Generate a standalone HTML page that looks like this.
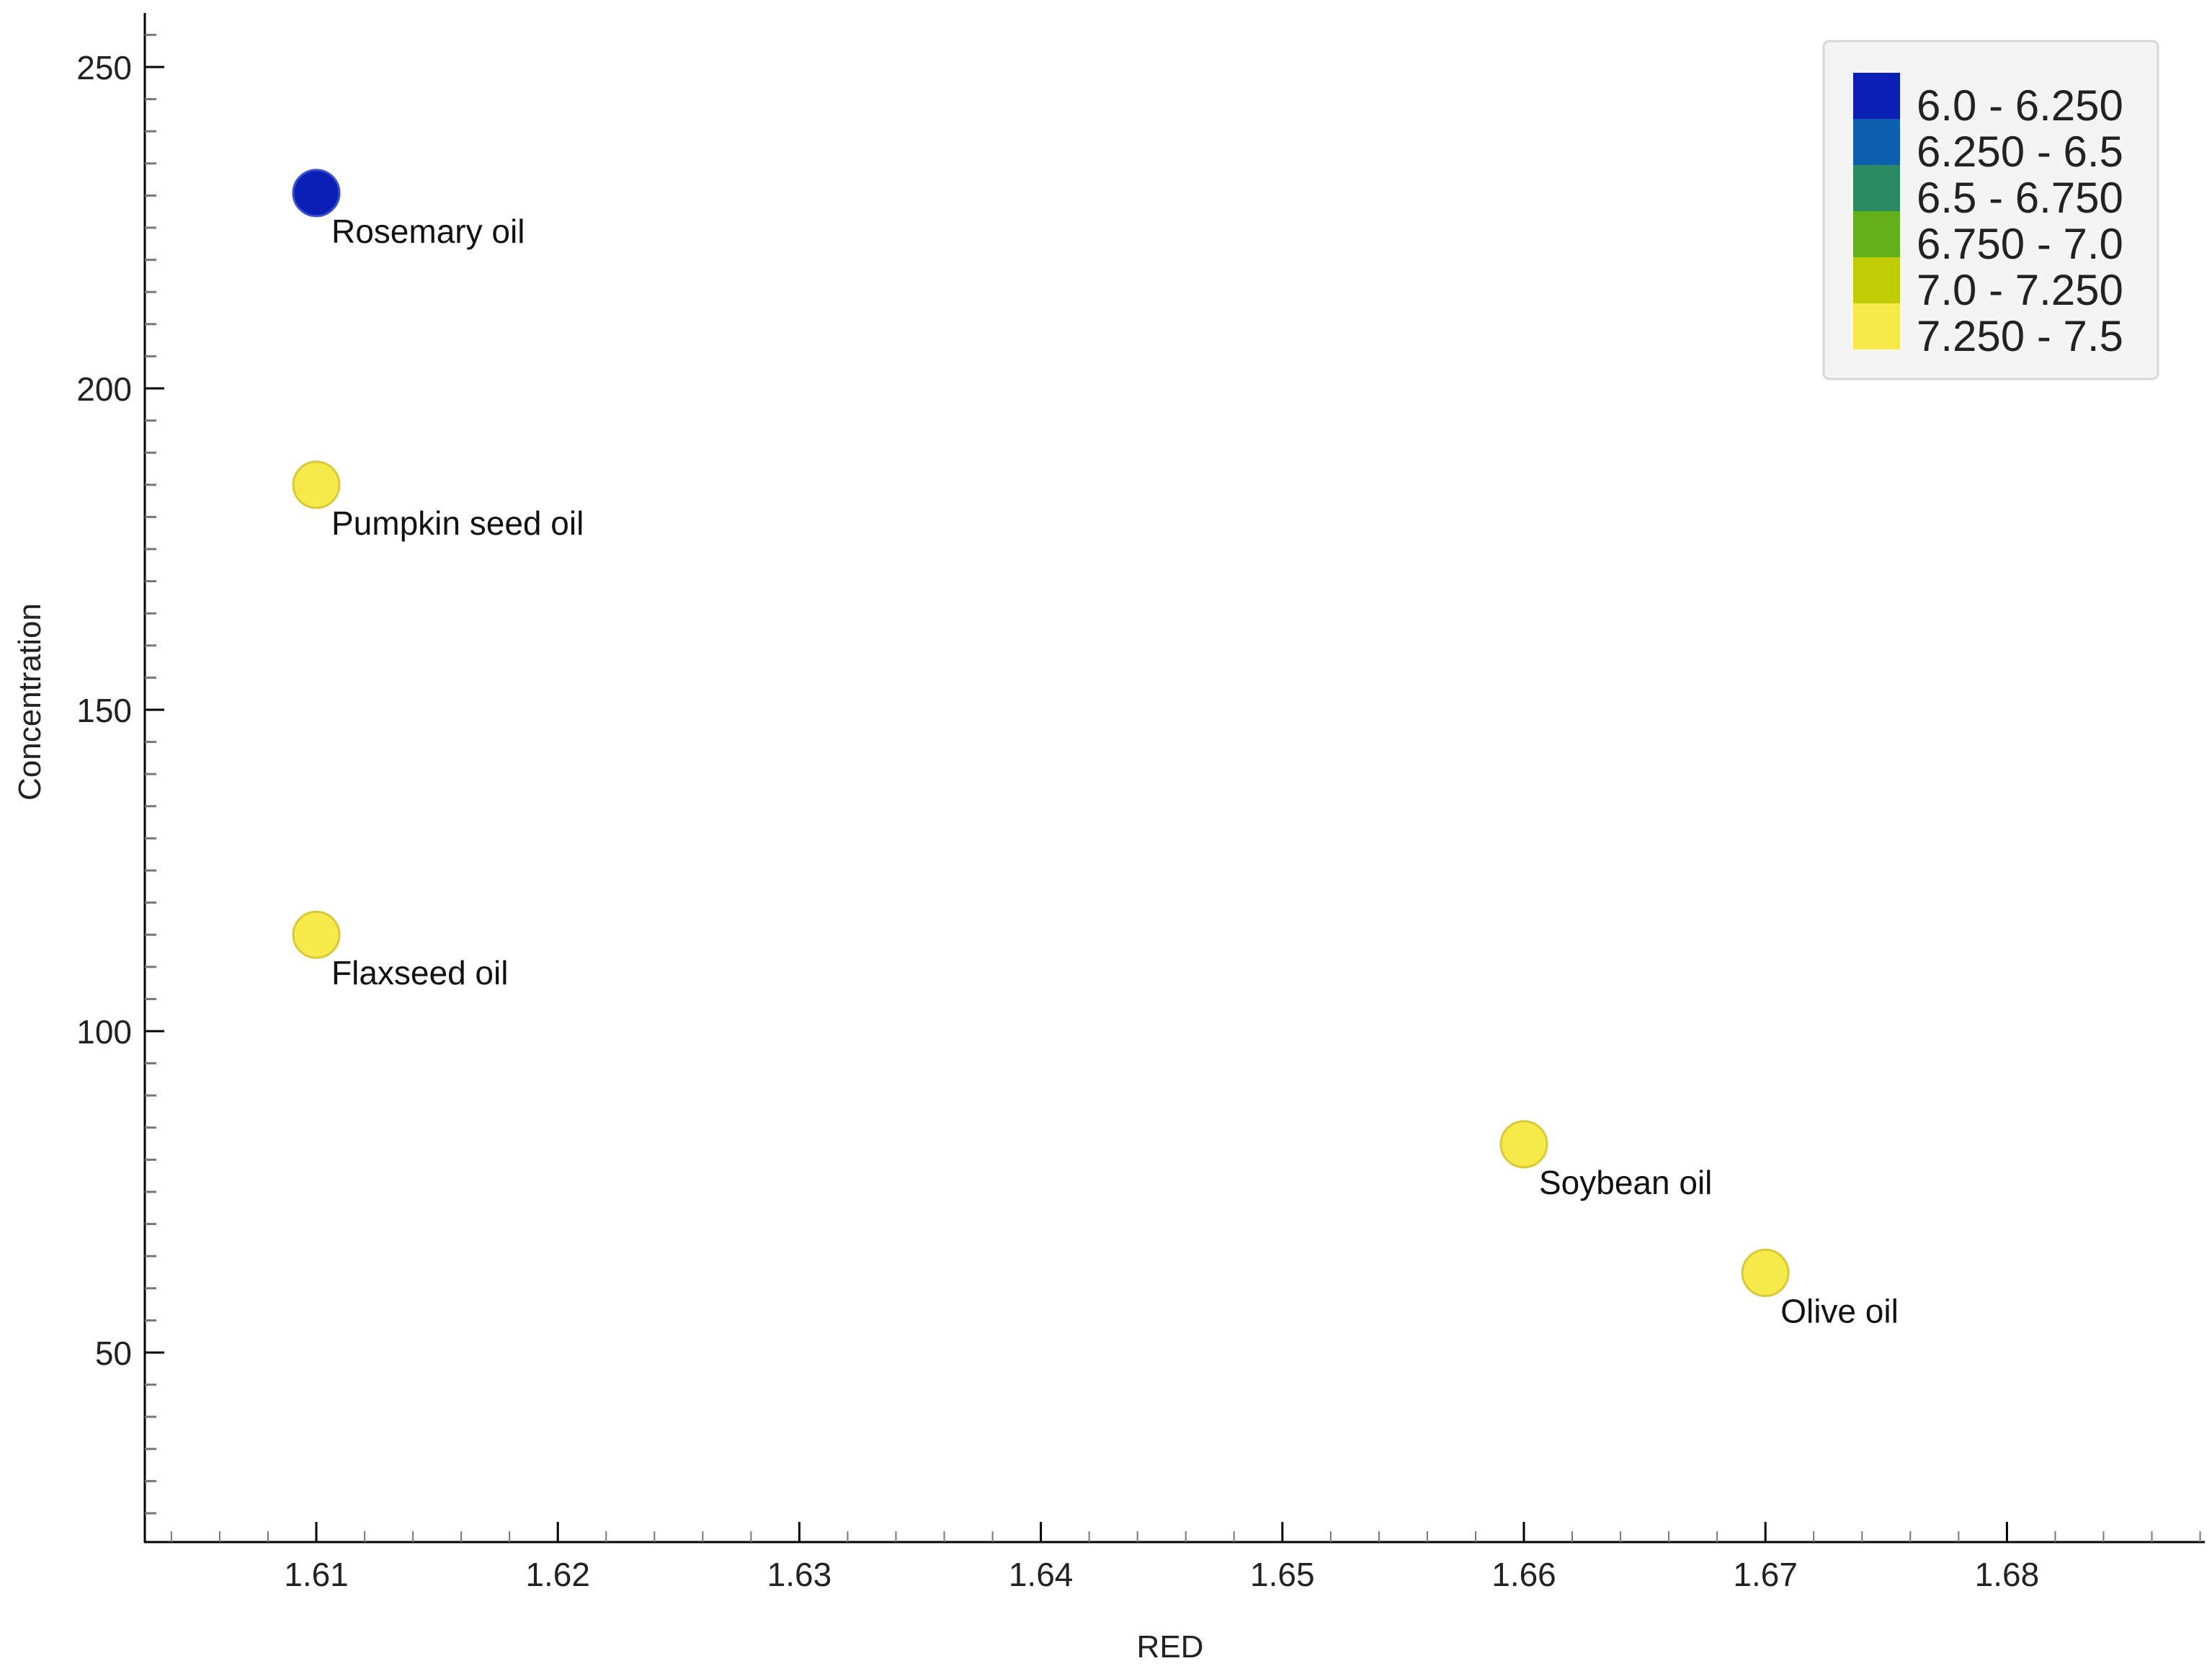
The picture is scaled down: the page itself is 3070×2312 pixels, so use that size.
<!DOCTYPE html>
<html><head><meta charset="utf-8"><style>
html,body{margin:0;padding:0;background:#fff;}
svg{display:block;font-family:"Liberation Sans",sans-serif;}
</style></head><body>
<svg id="chart" width="3070" height="2312" viewBox="0 0 3070 2312">
<g id="axes"></g>
<g id="marks"></g>
<g id="legend"></g>
<text x="1624" y="2300" font-size="44" text-anchor="middle" fill="#222">RED</text>
<text x="0" y="0" font-size="44" text-anchor="middle" fill="#222" transform="translate(56,974) rotate(-90)">Concentration</text>
</svg>
<script>
const names = ["Rosemary oil","Pumpkin seed oil","Flaxseed oil","Soybean oil","Olive oil"];
const redValues = [1.61,1.61,1.61,1.66,1.67];
const concValues = [230.4,185.0,115.0,82.4,62.4];
const colorValues = [6.1,7.4,7.4,7.4,7.4];
const xTicks = [1.61,1.62,1.63,1.64,1.65,1.66,1.67,1.68];
const yTicks = [50,100,150,200,250];
const legendLabels = ["6.0 - 6.250","6.250 - 6.5","6.5 - 6.750","6.750 - 7.0","7.0 - 7.250","7.250 - 7.5"];
const legendColors = ["#0a1fb3","#0b5fae","#2a8a62","#63b01d","#bfcc06","#f7e94a"];
const binEdges = [6.0,6.25,6.5,6.75,7.0,7.25,7.5];

const NS="http://www.w3.org/2000/svg";
const X0=201, Y0=2140, XR=3060, YT=18;
function sx(v){return 439+(v-1.61)*33520;}
function sy(v){return 539-(v-200)*8.92;}
function mk(tag,attrs,parent){const e=document.createElementNS(NS,tag);for(const k in attrs)e.setAttribute(k,attrs[k]);parent.appendChild(e);return e;}
const axes=document.getElementById('axes');
let l=mk('line',{x1:X0,y1:YT,x2:X0,y2:Y0+1,stroke:'#000','stroke-width':3},axes);


l=mk('line',{x1:X0-1,y1:Y0,x2:XR,y2:Y0,stroke:'#000','stroke-width':3},axes);


for(let v=25;v<=255;v+=5){const y=sy(v);if(y<YT||y>Y0-5)continue;
  if(v%50===0)continue;
  const t=mk('line',{x1:X0,y1:y,x2:X0+16,y2:y,stroke:'#777','stroke-width':3},axes);
  
  }
for(let i=0;i<=45;i++){const v=1.604+i*0.002;const x=sx(v);if(x<X0+5||x>XR)continue;
  if(Math.abs(Math.round(v*100)-v*100)<1e-6)continue;
  const t=mk('line',{x1:x,y1:Y0,x2:x,y2:Y0-15,stroke:'#777','stroke-width':2},axes);
  
  }
yTicks.forEach(v=>{const y=sy(v);
  const t=mk('line',{x1:X0,y1:y,x2:X0+27,y2:y,stroke:'#000','stroke-width':3},axes);
  
  
  const s=mk('text',{x:183,y:y+17,'font-size':46,'text-anchor':'end',fill:'#222'},axes);s.textContent=v;
  
  });
xTicks.forEach(v=>{const x=sx(v);
  const t=mk('line',{x1:x,y1:Y0,x2:x,y2:Y0-28,stroke:'#000','stroke-width':3},axes);
  
  
  const s=mk('text',{x:x,y:2201,'font-size':46,'text-anchor':'middle',fill:'#222'},axes);s.textContent=v.toFixed(2);
  
  });
function colorFor(c){for(let i=0;i<legendColors.length;i++){if(c<binEdges[i+1])return legendColors[i];}return legendColors[legendColors.length-1];}
const marks=document.getElementById('marks');
names.forEach((n,i)=>{const x=sx(redValues[i]),y=sy(concValues[i]);const col=colorFor(colorValues[i]);
  const c=mk('circle',{cx:x,cy:y,r:32,fill:col,stroke:col==='#f7e94a'?'#d8c93a':'#3a4fd0','stroke-width':3},marks);
  
  
  const t=mk('text',{x:x+21,y:y+69,'font-size':46,fill:'#111'},marks);t.textContent=n;
  
  });
const lg=document.getElementById('legend');
const box=mk('rect',{x:2531,y:57,width:464,height:469,rx:8,fill:'#f4f4f4',stroke:'#d6d6d6','stroke-width':3},lg);


legendLabels.forEach((lab,i)=>{
  const r=mk('rect',{x:2572,y:101+i*64,width:65,height:64,fill:legendColors[i]},lg);
  
  
  const t=mk('text',{x:2660,y:167+i*64,'font-size':60,fill:'#222'},lg);t.textContent=lab;
  
  });
</script>
</body></html>
